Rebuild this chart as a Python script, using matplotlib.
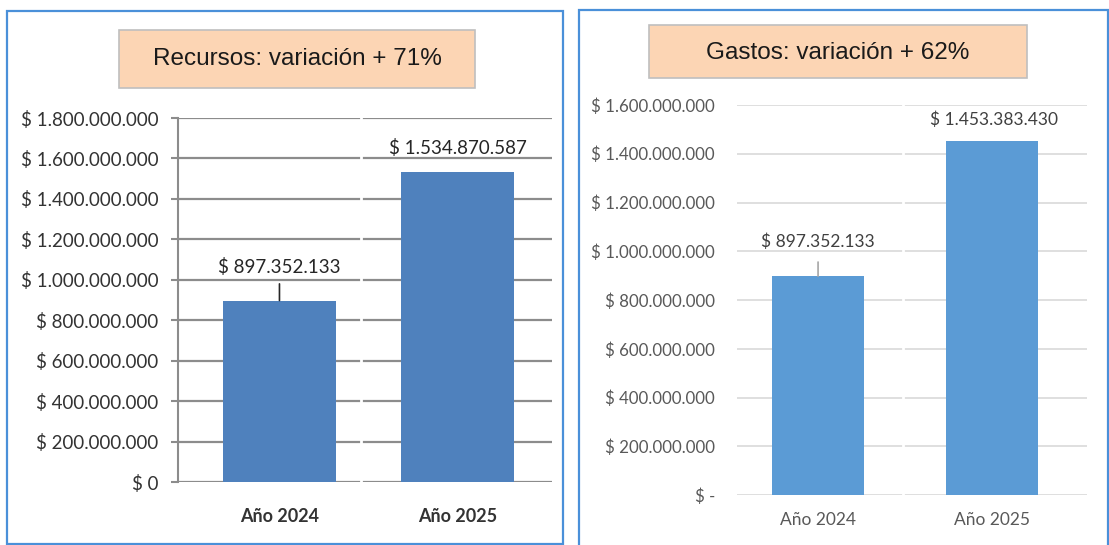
import matplotlib
matplotlib.use("Agg")
import matplotlib.pyplot as plt
from matplotlib.patches import Rectangle

# data
categories = ["Año 2024", "Año 2025"]
recursos = [897352133, 1534870587]
gastos = [897352133, 1453383430]
title_rec = "Recursos: variación + 71%"
title_gas = "Gastos: variación + 62%"
yticks_rec = list(range(0, 1800000001, 200000000))
yticks_gas = list(range(0, 1600000001, 200000000))

W, H = 1109, 545
fig = plt.figure(figsize=(W / 100, H / 100), dpi=100)
fig.patch.set_facecolor("white")


def px_axes(x0, y0, x1, y1):
    # pixel box (top-left origin) -> axes
    return fig.add_axes([x0 / W, 1 - y1 / H, (x1 - x0) / W, (y1 - y0) / H])


def px_rect(x0, y0, x1, y1, **kw):
    r = Rectangle((x0 / W, 1 - y1 / H), (x1 - x0) / W, (y1 - y0) / H,
                  transform=fig.transFigure, **kw)
    fig.patches.append(r)


def money(v, zero="$ 0"):
    if v == 0:
        return zero
    return "$ " + f"{v:,.0f}".replace(",", ".")


# panel frames
px_rect(7, 11, 563, 544, fill=False, edgecolor="#4a90d9", linewidth=1.6)
px_rect(579, 10, 1108, 560, fill=False, edgecolor="#4a90d9", linewidth=1.6)

# title boxes
px_rect(119, 30, 475, 88, facecolor="#fcd5b4", edgecolor="#bfbfbf", linewidth=1.2)
px_rect(649, 25, 1027, 78, facecolor="#fcd5b4", edgecolor="#bfbfbf", linewidth=1.2)
fig.text(297 / W, 1 - 59 / H, title_rec, ha="center", va="center",
         fontsize=17.5, family="Liberation Sans", color="#1a1a1a")
fig.text(838 / W, 1 - 53 / H, title_gas, ha="center", va="center",
         fontsize=17.5, family="Liberation Sans", color="#1a1a1a")

# ---- left chart: Recursos
ax1 = px_axes(178, 118, 552, 482)
ax1.bar([0, 1], recursos, width=0.635, color="#4f81bd", zorder=2)
ax1.set_xlim(-0.57, 1.531)
ax1.set_ylim(0, 1800000000)
ax1.set_yticks(yticks_rec)
ax1.set_yticklabels([money(v) for v in yticks_rec], family="Lato",
                    fontsize=13.5, color="#333333")
ax1.set_xticks([0, 1])
ax1.set_xticklabels(categories, family="Lato", fontsize=13, fontweight="bold",
                    color="#333333")
ax1.tick_params(axis="y", length=5, width=1.5, color="#8c8c8c", pad=9)
ax1.tick_params(axis="x", length=0, pad=19)
ax1.grid(axis="y", color="#8c8c8c", linewidth=1.6)
ax1.set_axisbelow(True)
ax1.axvline(0.458, color="white", linewidth=2, zorder=1)
for s in ["top", "right", "bottom"]:
    ax1.spines[s].set_visible(False)
ax1.spines["left"].set_color("#8c8c8c")
ax1.spines["left"].set_linewidth(1.5)
ax1.set_facecolor("none")

ax1.annotate(money(recursos[0]), xy=(0, recursos[0]), xytext=(0, 34),
             textcoords="offset pixels", ha="center", va="center",
             family="Lato", fontsize=13.5, color="#262626",
             arrowprops=dict(arrowstyle="-", color="#262626", lw=1.2,
                             relpos=(0.5, 0), shrinkA=4, shrinkB=0))
ax1.annotate(money(recursos[1]), xy=(1, recursos[1]), xytext=(0, 24),
             textcoords="offset pixels", ha="center", va="center",
             family="Lato", fontsize=13.5, color="#262626")

# ---- right chart: Gastos
ax2 = px_axes(737, 105, 1087, 495)
ax2.bar([0, 1], gastos, width=0.53, color="#5b9bd5", zorder=2)
ax2.set_xlim(-0.466, 1.546)
ax2.set_ylim(0, 1600000000)
ax2.set_yticks(yticks_gas)
ax2.set_yticklabels([money(v, "$ -") for v in yticks_gas], family="Lato",
                    fontsize=12.2, color="#595959")
ax2.set_xticks([0, 1])
ax2.set_xticklabels(categories, family="Lato", fontsize=12.5, color="#595959")
ax2.tick_params(axis="y", length=0, pad=16)
ax2.tick_params(axis="x", length=0, pad=12)
ax2.grid(axis="y", color="#d9d9d9", linewidth=1.2)
ax2.set_axisbelow(True)
ax2.axvline(0.489, color="white", linewidth=2, zorder=1)
for s in ax2.spines.values():
    s.set_visible(False)
ax2.set_facecolor("none")

ax2.annotate(money(gastos[0]), xy=(0, gastos[0]), xytext=(0, 35),
             textcoords="offset pixels", ha="center", va="center",
             family="Lato", fontsize=12.5, color="#404040",
             arrowprops=dict(arrowstyle="-", color="#a6a6a6", lw=1.2,
                             relpos=(0.5, 0), shrinkA=7, shrinkB=0))
ax2.annotate(money(gastos[1]), xy=(1, gastos[1]), xytext=(2, 21),
             textcoords="offset pixels", ha="center", va="center",
             family="Lato", fontsize=12.5, color="#404040")

fig.savefig("out.png", dpi=100)
